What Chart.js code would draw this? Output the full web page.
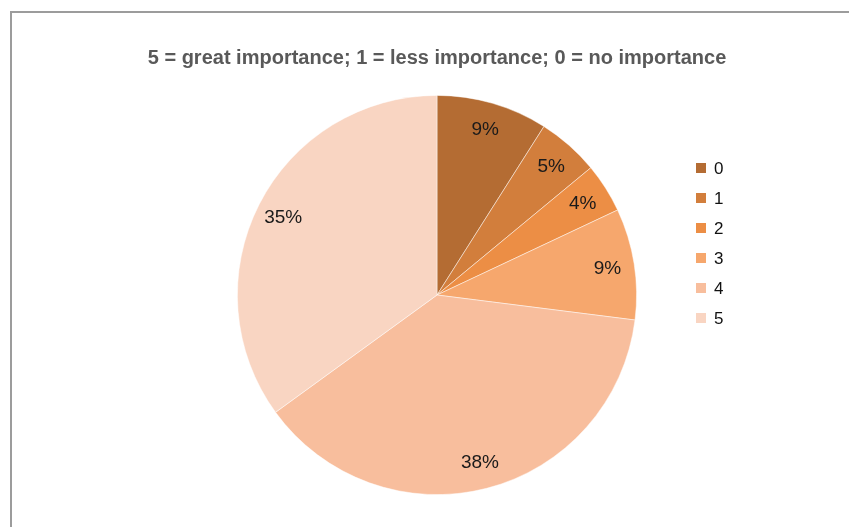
<!DOCTYPE html>
<html>
<head>
<meta charset="utf-8">
<script src="https://cdn.jsdelivr.net/npm/chart.js@4.4.0/dist/chart.umd.min.js"></script>
<style>
  body { margin: 0; background: #fff; overflow: hidden; }
  #wrap { position: relative; width: 849px; height: 527px; }
  #frame {
    position: absolute; left: 10px; top: 11px; width: 2000px; height: 2000px;
    border-left: 2px solid #9c9c9c; border-top: 2px solid #9c9c9c;
    pointer-events: none;
  }
</style>
</head>
<body>
<div id="wrap">
  <canvas id="chart" width="849" height="527"></canvas>
  <div id="frame"></div>
</div>
<script>
// Chart data

const categories = ['0', '1', '2', '3', '4', '5'];
const shares = [9, 5, 4, 9, 38, 35];
const sliceColors = ['#B46C33', '#D27E3C', '#EC8E45', '#F6A76D', '#F8BE9D', '#F9D5C2'];
const chartTitle = '5 = great importance; 1 = less importance; 0 = no importance';

const fontFamily = '"Liberation Sans", Arial, sans-serif';

// Percent labels inside slices

const sliceLabels = {
    id: 'sliceLabels',
    afterDatasetsDraw(chart) {
        const ctx = chart.ctx;
        const meta = chart.getDatasetMeta(0);
        const total = shares.reduce((a, b) => a + b, 0);
        ctx.save();
        ctx.font = '19px ' + fontFamily;
        ctx.fillStyle = '#1a1a1a';
        ctx.textAlign = 'center';
        ctx.textBaseline = 'middle';
        meta.data.forEach((arc, i) => {
            const p = arc.getProps(['x', 'y', 'startAngle', 'endAngle', 'outerRadius'], true);
            const mid = (p.startAngle + p.endAngle) / 2;
            const r = p.outerRadius * 0.865;
            const pct = Math.round(shares[i] / total * 100) + '%';
            ctx.fillText(pct, p.x + Math.cos(mid) * r, p.y + Math.sin(mid) * r + 1);
        });
        ctx.restore();
    }
};

// Legend drawn beside the pie

const sideLegend = {
    id: 'sideLegend',
    afterDraw(chart, args, opts) {
        const ctx = chart.ctx;
        ctx.save();
        ctx.font = '17px ' + fontFamily;
        ctx.textBaseline = 'middle';
        chart.data.labels.forEach((label, i) => {
            const y = opts.top + i * opts.step;
            ctx.fillStyle = chart.data.datasets[0].backgroundColor[i];
            ctx.fillRect(opts.left, y - 5, 10, 10);
            ctx.fillStyle = '#111';
            ctx.fillText(label, opts.left + 18, y + 1);
        });
        ctx.restore();
    }
};

const myChart = new Chart(document.getElementById('chart'), {
    type: 'pie',
    data: {
        labels: categories,
        datasets: [{
            data: shares,
            backgroundColor: sliceColors,
            borderColor: 'rgba(255,255,255,0.6)',
            borderWidth: 0.8
        }]
    },
    options: {
        responsive: false,
        animation: false,
        events: [],
        layout: {
            padding: { left: 25, right: 0, top: 0, bottom: 32 }
        },
        plugins: {
            legend: { display: false },
            tooltip: { enabled: false },
            title: {
                display: true,
                text: chartTitle,
                color: '#595959',
                font: { family: fontFamily, size: 20, weight: 'bold', lineHeight: 1.2 },
                padding: { top: 46, bottom: 25 }
            },
            sideLegend: { left: 696, top: 168, step: 30 }
        }
    },
    plugins: [sliceLabels, sideLegend]
});
</script>
</body>
</html>
